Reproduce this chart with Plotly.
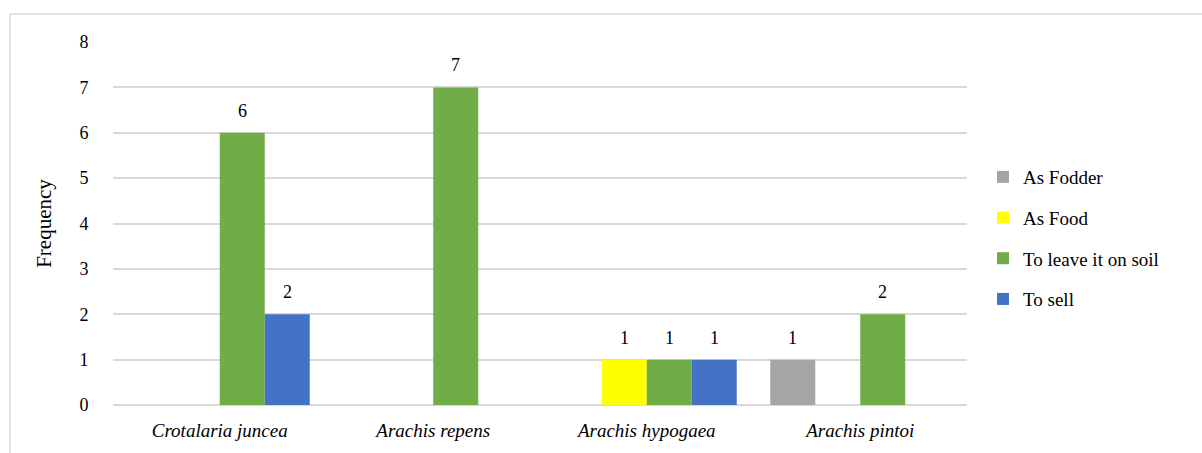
import plotly.graph_objects as go

categories = ["Crotalaria juncea", "Arachis repens", "Arachis hypogaea", "Arachis pintoi"]
series_names = ["As Fodder", "As Food", "To leave it on soil", "To sell"]
as_fodder = [None, None, None, 1]
as_food = [None, None, 1, None]
leave_on_soil = [6, 7, 1, 2]
to_sell = [2, None, 1, None]
colors = ["#A5A5A5", "#FFFF00", "#70AD47", "#4472C4"]

serif = "Liberation Serif"

L, R, T, B = 113, 235, 42, 48
W, H = 1202, 453
pw, ph = W - L - R, H - T - B
bargap = 0.157
bar_px = pw / len(categories) * (1 - bargap) / len(series_names)

def px_x(x):
    return (x - L) / pw

def px_y(y):
    return (H - B - y) / ph

fig = go.Figure()
annotations = []
all_vals = [as_fodder, as_food, leave_on_soil, to_sell]
for i, (name, vals, col) in enumerate(zip(series_names, all_vals, colors)):
    fig.add_trace(go.Bar(
        name=name, x=categories, y=vals, marker_color=col, marker_line_width=0,
        legendgroup=name,
    ))
    for c, v in zip(categories, vals):
        if v is None:
            continue
        annotations.append(dict(
            x=c, y=v, xref="x", yref="y", text=str(v), showarrow=False,
            xshift=(i - (len(series_names) - 1) / 2) * bar_px, yshift=22,
            yanchor="middle", font=dict(family=serif, size=18, color="#000000"),
        ))

fig.update_layout(
    width=W, height=H,
    margin=dict(l=L, r=R, t=T, b=B, autoexpand=False),
    paper_bgcolor="white", plot_bgcolor="white",
    barmode="group", bargap=bargap, bargroupgap=0,
    font=dict(family=serif, color="#000000"),
    xaxis=dict(
        tickfont=dict(family=serif, size=19, style="italic", color="#000000"),
        showgrid=False, showline=False, ticks="outside", ticklen=8, tickcolor="white",
        automargin=False,
    ),
    yaxis=dict(
        range=[0, 8], dtick=1, showgrid=True, gridcolor="#D9D9D9", gridwidth=1.5,
        zeroline=True, zerolinecolor="#D9D9D9", zerolinewidth=1.5,
        tickfont=dict(family=serif, size=18, color="#000000"),
        ticks="outside", ticklen=20, tickcolor="white", automargin=False,
        title=dict(text="Frequency", font=dict(family=serif, size=21, color="#000000"), standoff=22),
    ),
    legend=dict(
        x=px_x(983), y=px_y(158), xanchor="left", yanchor="top",
        font=dict(family=serif, size=19, color="#000000"),
        tracegroupgap=13, traceorder="grouped", itemwidth=30,
        bgcolor="rgba(0,0,0,0)",
    ),
    annotations=annotations,
    shapes=[
        dict(type="line", xref="paper", yref="paper", x0=px_x(10), x1=px_x(1202), y0=px_y(14), y1=px_y(14),
             line=dict(color="#D9D9D9", width=1.5)),
        dict(type="line", xref="paper", yref="paper", x0=px_x(10), x1=px_x(10), y0=px_y(14), y1=px_y(453),
             line=dict(color="#D9D9D9", width=1.5)),
    ],
)

fig.write_html("out.html")
